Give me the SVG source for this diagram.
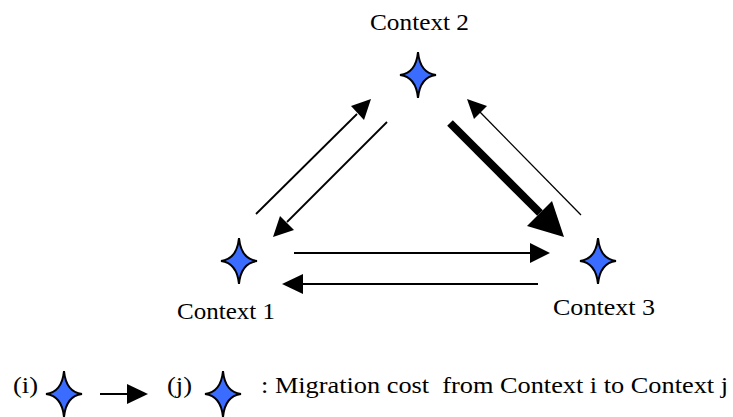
<svg xmlns="http://www.w3.org/2000/svg" width="733" height="417" viewBox="0 0 733 417">
<style>
.t{font-family:'Liberation Serif','Times New Roman',serif;font-size:24px;fill:#000}
.ln{stroke:#000;fill:none}
.star{fill:#3a6cff;stroke:#000;stroke-width:2;stroke-linejoin:miter}
</style>
<defs>
<path id="star" class="star" d="M0,-23 Q2,-2 18,0 Q2,2 0,23 Q-2,2 -18,0 Q-2,-2 0,-23Z"/>
</defs>
<g id="context2"><use href="#star" x="418" y="75"/><text class="t" x="370" y="30" textLength="99" lengthAdjust="spacingAndGlyphs" font-family="Liberation Serif, serif">Context 2</text></g>
<g id="context1"><use href="#star" x="239" y="261"/><text class="t" x="177" y="319" textLength="98" lengthAdjust="spacingAndGlyphs" font-family="Liberation Serif, serif">Context 1</text></g>
<g id="context3"><use href="#star" x="598" y="261"/><text class="t" x="553" y="315" textLength="102" lengthAdjust="spacingAndGlyphs" font-family="Liberation Serif, serif">Context 3</text></g>
<g id="connectors">
<line class="ln" x1="256" y1="214" x2="357" y2="114" stroke-width="1.8"/>
<polygon points="371,99 351,106 364,120"/>
<line class="ln" x1="387" y1="122" x2="287" y2="222" stroke-width="1.8"/>
<polygon points="273,237 280,216 294,230"/>
<line class="ln" x1="581" y1="215" x2="478" y2="110" stroke-width="1.3"/>
<polygon points="467,99 487,106 474,119"/>
<line class="ln" x1="450" y1="123" x2="540" y2="213" stroke-width="8"/>
<polygon points="564,237 527,226 552,201"/>
<line class="ln" x1="294" y1="253" x2="532" y2="253" stroke-width="2"/>
<polygon points="550,253 530,243 530,263"/>
<line class="ln" x1="538" y1="284" x2="300" y2="284" stroke-width="2"/>
<polygon points="282,284 303,274 303,294"/>
</g>
<g id="legend">
<text class="t" x="13" y="393" textLength="25" lengthAdjust="spacingAndGlyphs" font-family="Liberation Serif, serif">(i)</text>
<use href="#star" x="64" y="394"/>
<line class="ln" x1="100" y1="394" x2="130" y2="394" stroke-width="2"/>
<polygon points="148,394 127,384 127,404"/>
<text class="t" x="167" y="393" textLength="25" lengthAdjust="spacingAndGlyphs" font-family="Liberation Serif, serif">(j)</text>
<use href="#star" x="223" y="394"/>
<text class="t" x="261" y="393" textLength="467" lengthAdjust="spacingAndGlyphs" font-family="Liberation Serif, serif" xml:space="preserve">: Migration cost  from Context i to Context j</text>
</g>
</svg>
